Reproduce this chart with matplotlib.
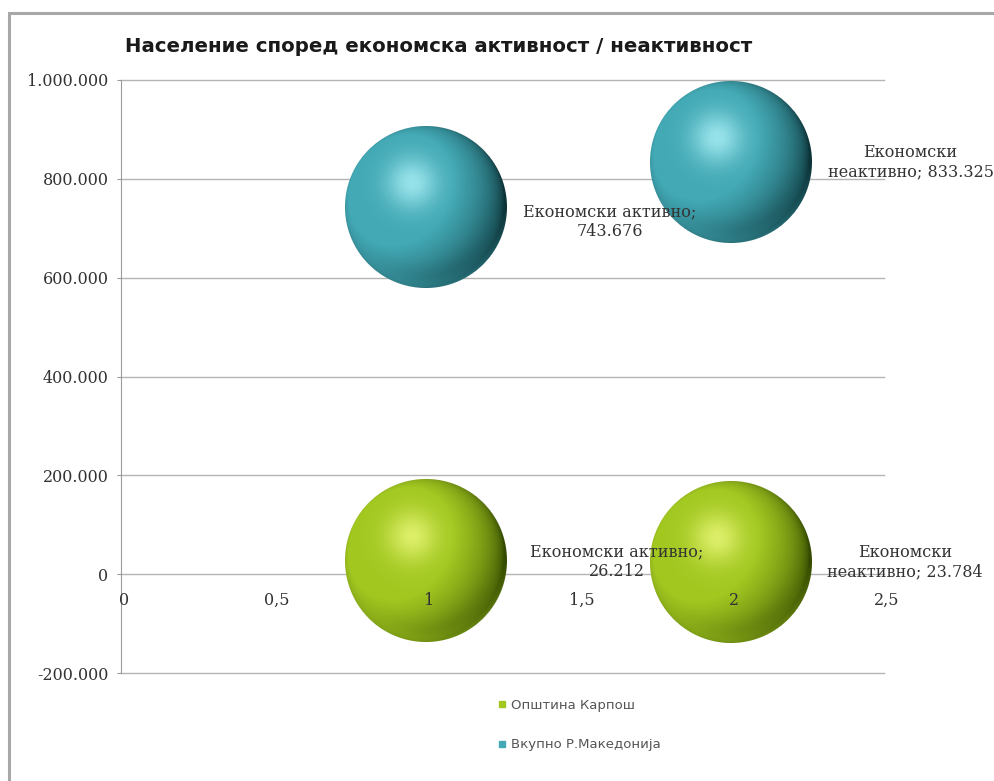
import textwrap
import numpy as np
import matplotlib.pyplot as plt
from matplotlib.colors import to_rgb
from matplotlib.lines import Line2D
from matplotlib.patches import Rectangle
from matplotlib.offsetbox import OffsetImage, AnnotationBbox
from matplotlib.ticker import FuncFormatter

# data
categories = ["Економски активно", "Економски неактивно"]
x_pos = [1, 2]
karpos_vals = [26212, 23784]
mk_vals = [743676, 833325]
karpos_size = [1, 1]
mk_size = [1, 1]
series_names = ["Општина Карпош", "Вкупно Р.Македонија"]
x_ticks = [0, 0.5, 1, 1.5, 2, 2.5]
y_ticks = [-200000, 0, 200000, 400000, 600000, 800000, 1000000]

# styling
green = dict(base="#a2c820", dark="#354a00", light="#f0fb80")
teal = dict(base="#42a9b5", dark="#0c3338", light="#b4f6fc")
max_radius = 81  # px
serif = "DejaVu Serif"
txt_col = "#333333"


def sphere(radius, base, dark, light):
    n = 2 * radius + 2
    c = (n - 1) / 2
    yy, xx = np.mgrid[0:n, 0:n]
    u = (xx - c) / radius
    v = (c - yy) / radius
    r2 = u ** 2 + v ** 2
    nz = np.sqrt(np.clip(1 - r2, 0, 1))
    base, dark, light = (np.array(to_rgb(k)) for k in (base, dark, light))
    lam = -0.45 * u + 0.3 * v + 0.84 * nz
    t = np.clip((lam + 0.2) / 0.9, 0, 1) ** 0.8
    col = dark + (base - dark) * t[..., None]
    # reflected light along the lower rim
    rim = np.clip(-v, 0, 1) * np.exp(-((1 - np.sqrt(r2)) / 0.15) ** 2)
    col = col + (base * 1.05 - col) * 0.5 * rim[..., None]
    spot = np.exp(-((u + 0.17) ** 2 + (v - 0.3) ** 2) / 0.1)
    col = col + (light - col) * 0.75 * spot[..., None]
    alpha = np.clip((1 - np.sqrt(r2)) * radius + 0.5, 0, 1)
    return np.dstack([np.clip(col, 0, 1), alpha])


def fmt_num(v):
    return f"{int(round(v)):,}".replace(",", ".")


fig = plt.figure(figsize=(9.95, 7.81), dpi=100)
ax = fig.add_axes([121 / 995, 1 - 673 / 781, (884 - 121) / 995, (673 - 80) / 781])

ax.set_xlim(0, 2.5)
ax.set_ylim(-200000, 1000000)
ax.set_xticks(x_ticks)
ax.set_yticks(y_ticks)
ax.yaxis.set_major_formatter(FuncFormatter(lambda v, p: fmt_num(v)))
ax.grid(axis="y", color="#b4b4b4", lw=1)
for gl in ax.get_ygridlines():
    gl.set_clip_on(False)
ax.set_axisbelow(True)
for s in ("top", "right", "bottom"):
    ax.spines[s].set_visible(False)
ax.spines["left"].set_color("#9a9a9a")
ax.tick_params(axis="y", length=3, color="#9a9a9a", labelsize=11.5, labelcolor=txt_col, pad=6)
ax.tick_params(axis="x", length=0, labelbottom=False)
for lbl in ax.get_yticklabels():
    lbl.set_fontfamily(serif)

# x tick labels sit just under the zero line, on top of the bubbles
for xt in x_ticks:
    ax.annotate(f"{xt:g}".replace(".", ","), xy=(xt, 0), xytext=(2, -19),
                textcoords="offset points", ha="center", va="center",
                fontsize=11.5, family=serif, color=txt_col, zorder=6)

series = [
    (karpos_vals, karpos_size, green, [(137, 0), (125, 0)]),
    (mk_vals, mk_size, teal, [(132, -11), (129, 0)]),
]
biggest = max(karpos_size + mk_size)
for vals, sizes, pal, offsets in series:
    for x, y, s, cat, off in zip(x_pos, vals, sizes, categories, offsets):
        r = int(round(max_radius * np.sqrt(s / biggest)))
        img = OffsetImage(sphere(r, **pal), zoom=1, dpi_cor=False)
        ab = AnnotationBbox(img, (x, y), frameon=False, pad=0, zorder=4)
        ax.add_artist(ab)
        text = "\n".join(textwrap.wrap(f"{cat}; {fmt_num(y)}", 18))
        ax.annotate(text, xy=(x, y), xytext=off, textcoords="offset points",
                    ha="center", va="center", fontsize=11.5, family=serif,
                    color=txt_col, linespacing=1.2, zorder=5,
                    annotation_clip=False)

fig.text(125 / 995, 1 - 47 / 781, "Население според економска активност / неактивност",
         ha="left", va="center", fontsize=14.2, fontweight="bold",
         family="DejaVu Sans", color="#1a1a1a")

handles = [Line2D([], [], ls="none", marker="s", markersize=5, color=green["base"]),
           Line2D([], [], ls="none", marker="s", markersize=5, color=teal["base"])]
fig.legend(handles, series_names, loc="center", bbox_to_anchor=(578 / 995, 1 - 725 / 781),
           frameon=False, prop={"family": "DejaVu Sans", "size": 9.5},
           labelspacing=2.0, handletextpad=0.2, handlelength=1.0, labelcolor="#555555")

# chart area border
fig.add_artist(Rectangle((9 / 995, -0.1), 2, 1.1 - 13 / 781, transform=fig.transFigure,
                         fill=False, ec="#a8a8a8", lw=2.2))

fig.savefig("out.png", dpi=100)
